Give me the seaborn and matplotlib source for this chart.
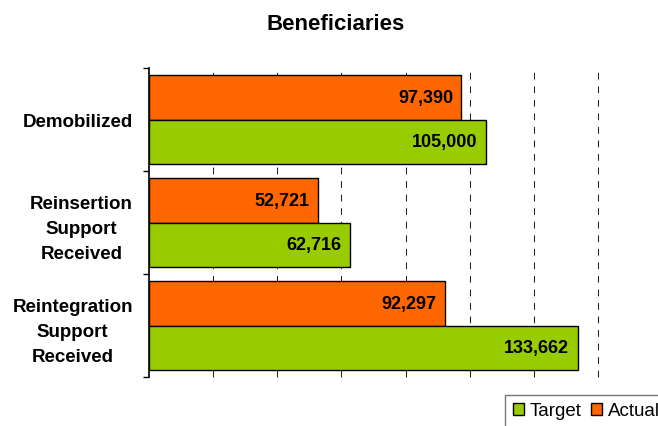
import pandas as pd
import matplotlib
matplotlib.use("Agg")
import matplotlib.pyplot as plt
import seaborn as sns
from matplotlib.patches import Patch

# -----------------------
# Data
# -----------------------
categories = ["Demobilized", "Reinsertion\nSupport\nReceived", "Reintegration\nSupport\nReceived"]
actual = [97390, 52721, 92297]
target = [105000, 62716, 133662]
series = ["Actual", "Target"]
colors = {"Actual": "#FF6600", "Target": "#99CC00"}

df = pd.DataFrame({
    "Category": categories * 2,
    "Value": actual + target,
    "Series": ["Actual"] * len(actual) + ["Target"] * len(target),
})

sns.set_style("white")
plt.rcParams["font.family"] = ["Liberation Sans", "DejaVu Sans"]
plt.rcParams["text.color"] = "black"

fig = plt.figure(figsize=(6.58, 4.27), dpi=100)
ax = fig.add_axes([149 / 658, 1 - 378 / 427, (598 - 149) / 658, (378 - 69) / 427])

sns.barplot(data=df, y="Category", x="Value", hue="Series", hue_order=series,
            palette=colors, saturation=1, orient="h", width=0.87, edgecolor="black",
            linewidth=1, errorbar=None, legend=False, ax=ax, zorder=3)

# value labels inside the bars
for cont in ax.containers:
    texts = ax.bar_label(cont, labels=[f"{w:,.0f}" for w in cont.datavalues],
                         padding=-6, fontsize=13, fontweight="bold", color="black")
    for t in texts:
        t.set_ha("right")

# -----------------------
# Axes styling
# -----------------------
ax.set_xlim(0, 140000)
ax.set_ylim(2.5, -0.5)
ax.set_xticks(range(20000, 140001, 20000))
ax.set_xticklabels([])
ax.tick_params(axis="x", length=0)
ax.xaxis.grid(True, color="#222222", linestyle=(0, (6.5, 6.5)), linewidth=0.75, zorder=0)
for gl in ax.get_xgridlines():
    gl.set_clip_on(False)
ax.yaxis.grid(False)
ax.set_axisbelow(True)

for s in ["top", "right", "bottom"]:
    ax.spines[s].set_visible(False)
ax.spines["left"].set_color("black")
ax.spines["left"].set_linewidth(1.2)

ax.set_yticks([-0.5, 0.5, 1.5, 2.5], minor=True)
ax.tick_params(axis="y", which="minor", length=4, width=1, color="black", left=True)
ax.tick_params(axis="y", which="major", length=0, pad=11.5, labelcolor="black")
for lab in ax.get_yticklabels():
    lab.set_multialignment("center")
    lab.set_linespacing(1.62)
    lab.set_fontweight("bold")
    lab.set_fontsize(13.5)
ax.set_xlabel("")
ax.set_ylabel("")

fig.text(336 / 658, 1 - 24.5 / 427, "Beneficiaries", ha="center", va="center",
         fontsize=16, fontweight="bold", color="black")

handles = [Patch(facecolor=colors["Target"], edgecolor="black", linewidth=1),
           Patch(facecolor=colors["Actual"], edgecolor="black", linewidth=1)]
leg = fig.legend(handles=handles, labels=["Target", "Actual"], loc="upper left",
                 bbox_to_anchor=(505 / 658, 1 - 396 / 427), ncol=2, frameon=True,
                 fancybox=False, edgecolor="#555555", handlelength=0.6, handleheight=0.6,
                 handletextpad=0.3, columnspacing=0.5, fontsize=13.5, borderaxespad=0,
                 borderpad=0.4, labelcolor="black")
leg.get_frame().set_linewidth(1)

fig.savefig("out.png", dpi=100)
